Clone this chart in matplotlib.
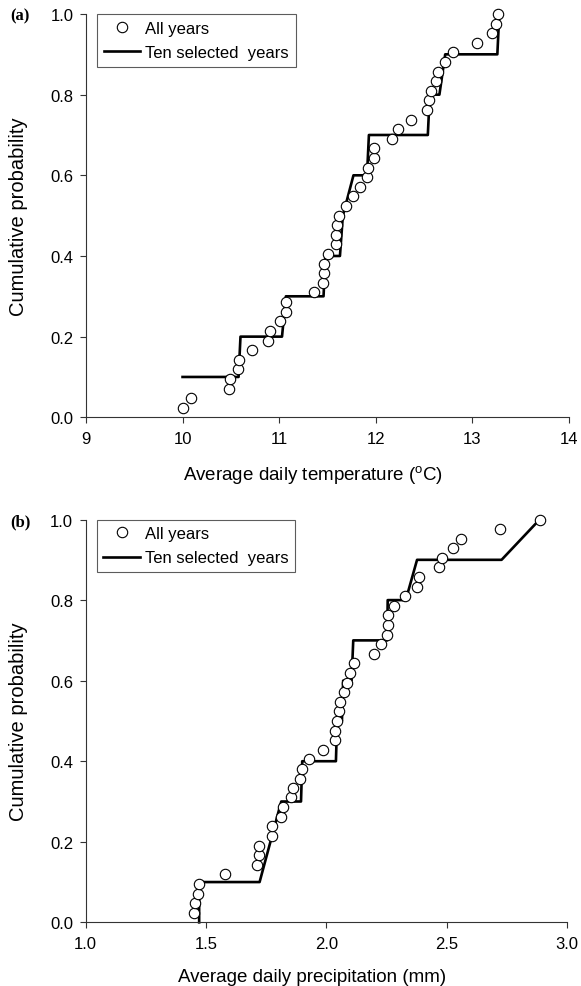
import matplotlib
matplotlib.use('Agg')
import matplotlib.pyplot as plt

plt.rcParams['font.family'] = ['Liberation Sans', 'DejaVu Sans']

# cumulative probability of each year (rank / 42), same for both panels
prob_all = [0.024, 0.048, 0.071, 0.095, 0.119, 0.143, 0.167, 0.190, 0.214, 0.238,
            0.262, 0.286, 0.310, 0.333, 0.357, 0.381, 0.405, 0.429, 0.452, 0.476,
            0.500, 0.524, 0.548, 0.571, 0.595, 0.619, 0.643, 0.667, 0.690, 0.714,
            0.738, 0.762, 0.786, 0.810, 0.833, 0.857, 0.881, 0.905, 0.929, 0.952,
            0.976, 1.000]

# (a) temperature, all years
temp_all = [10.00, 10.09, 10.48, 10.49, 10.57, 10.58, 10.72, 10.88, 10.91, 11.01,
            11.07, 11.07, 11.36, 11.45, 11.46, 11.46, 11.51, 11.59, 11.59, 11.60,
            11.62, 11.69, 11.77, 11.84, 11.91, 11.92, 11.98, 11.98, 12.17, 12.23,
            12.37, 12.53, 12.55, 12.57, 12.62, 12.65, 12.72, 12.80, 13.05, 13.20,
            13.25, 13.27]

# (a) temperature, ten selected years
temp_sel_x = [10.00, 10.58, 10.60, 11.03, 11.07, 11.46, 11.48, 11.63, 11.66, 11.77,
              11.91, 11.93, 12.54, 12.56, 12.66, 12.72, 13.26, 13.28]
temp_sel_y = [0.1, 0.1, 0.2, 0.2, 0.3, 0.3, 0.4, 0.4, 0.5, 0.6,
              0.6, 0.7, 0.7, 0.8, 0.8, 0.9, 0.9, 1.0]

# (b) precipitation, all years
precip_all = [1.452, 1.455, 1.469, 1.472, 1.580, 1.714, 1.719, 1.719, 1.774, 1.774,
              1.813, 1.822, 1.855, 1.862, 1.892, 1.900, 1.930, 1.986, 2.035, 2.037,
              2.044, 2.051, 2.058, 2.072, 2.086, 2.100, 2.114, 2.198, 2.229, 2.252,
              2.255, 2.256, 2.280, 2.326, 2.377, 2.384, 2.470, 2.481, 2.527, 2.561,
              2.720, 2.886]

# (b) precipitation, ten selected years
precip_sel_x = [1.472, 1.472, 1.723, 1.813, 1.895, 1.900, 2.040, 2.045, 2.065, 2.070,
                2.105, 2.112, 2.253, 2.255, 2.330, 2.377, 2.728, 2.886]
precip_sel_y = [0.0, 0.1, 0.1, 0.3, 0.3, 0.4, 0.4, 0.5, 0.5, 0.6,
                0.6, 0.7, 0.7, 0.8, 0.8, 0.9, 0.9, 1.0]


def draw_panel(ax, x_all, x_sel, y_sel, xlim, xticks, xticklabels, xlabel):
    ax.plot(x_all, prob_all, 'o', mfc='white', mec='black', ms=7.5, mew=0.8,
            label='All years', clip_on=False, zorder=3)
    ax.plot(x_sel, y_sel, '-', color='black', lw=1.9, label='Ten selected  years',
            clip_on=False, zorder=2)
    ax.set_xlim(xlim)
    ax.set_ylim(0, 1)
    ax.set_xticks(xticks)
    ax.set_xticklabels(xticklabels)
    ax.set_yticks([0, 0.2, 0.4, 0.6, 0.8, 1.0])
    ax.set_yticklabels(['0.0', '0.2', '0.4', '0.6', '0.8', '1.0'])
    ax.spines['top'].set_visible(False)
    ax.spines['right'].set_visible(False)
    for s in ['left', 'bottom']:
        ax.spines[s].set_linewidth(0.8)
        ax.spines[s].set_color('#333333')
    ax.tick_params(direction='out', length=4, width=0.8, labelsize=12, color='#333333')
    ax.tick_params(axis='x', pad=6)
    ax.tick_params(axis='y', pad=5)
    ax.set_xlabel(xlabel, fontsize=13.5)
    ax.set_ylabel('Cumulative probability', fontsize=14.5)
    # label positions (axes fraction)
    ax.xaxis.set_label_coords(0.47, -0.113)
    ax.yaxis.set_label_coords(-0.12, 0.5)
    leg = ax.legend(loc='upper left', bbox_to_anchor=(0.023, 1.0), borderaxespad=0,
                    fontsize=12, frameon=True, fancybox=False, handlelength=2.2,
                    handletextpad=0.3, labelspacing=0.55, borderpad=0.4)
    leg.get_frame().set_edgecolor('#333333')
    leg.get_frame().set_linewidth(0.8)


fig = plt.figure(figsize=(5.81, 9.87), dpi=100)
ax1 = fig.add_axes([0.148, 0.5762, 0.831, 0.4086])
ax2 = fig.add_axes([0.1472, 0.0645, 0.8288, 0.4081])

draw_panel(ax1, temp_all, temp_sel_x, temp_sel_y, (9, 14), [9, 10, 11, 12, 13, 14],
           ['9', '10', '11', '12', '13', '14'],
           'Average daily temperature ($\\mathregular{^{o}}$C)')
draw_panel(ax2, precip_all, precip_sel_x, precip_sel_y, (1.0, 3.0),
           [1.0, 1.5, 2.0, 2.5, 3.0], ['1.0', '1.5', '2.0', '2.5', '3.0'],
           'Average daily precipitation (mm)')

fig.text(0.017, 0.983, '(a)', family='Liberation Serif', fontweight='bold',
         fontsize=12, va='center', ha='left')
fig.text(0.017, 0.471, '(b)', family='Liberation Serif', fontweight='bold',
         fontsize=12, va='center', ha='left')

fig.savefig('out.png', dpi=100)
